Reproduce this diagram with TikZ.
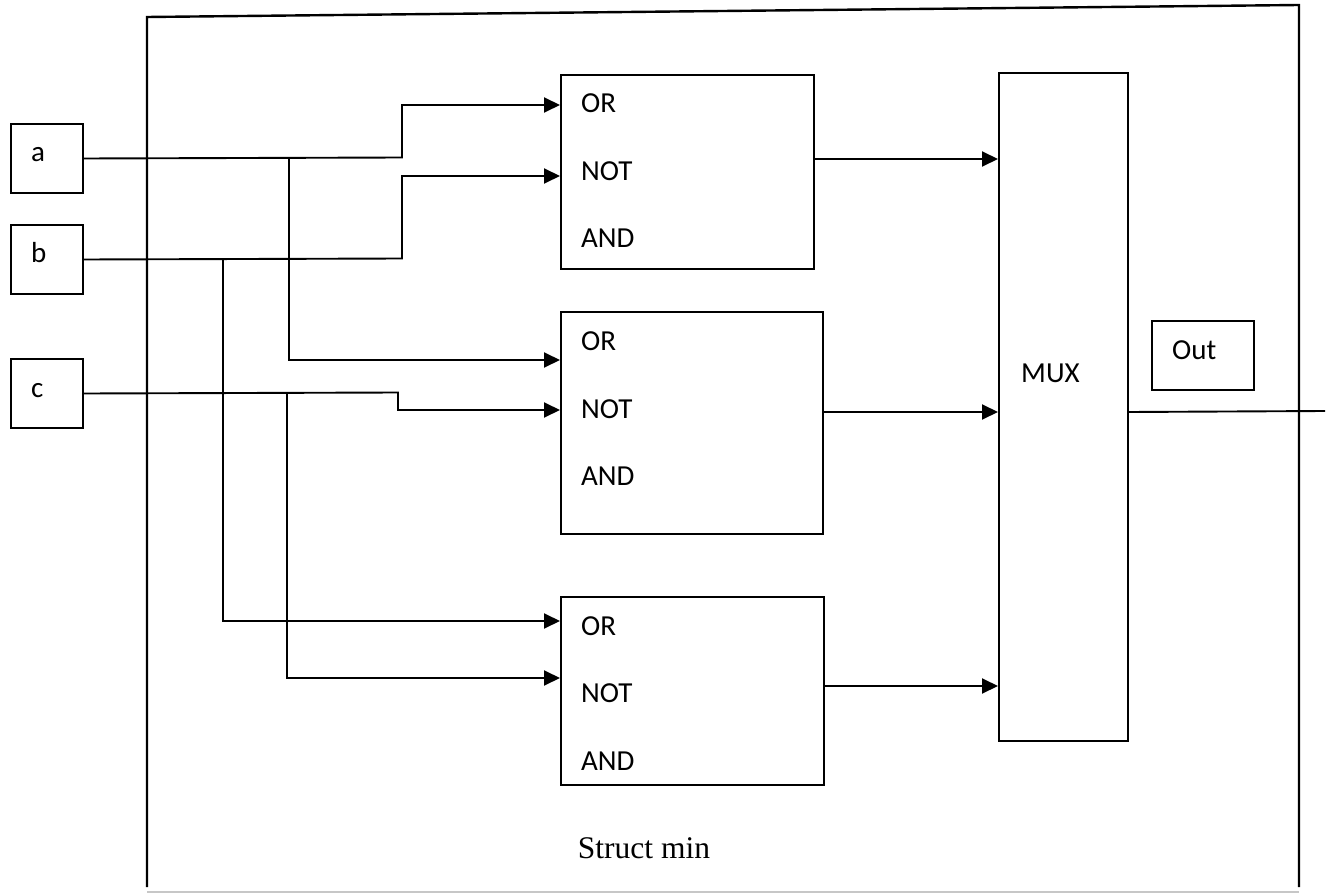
\documentclass[tikz,border=0pt]{standalone}
\usepackage{fontspec}
\setmainfont{Carlito}
\newfontfamily\tms{Liberation Serif}
\usetikzlibrary{arrows.meta}
\begin{document}
\begin{tikzpicture}[x=1pt,y=-1pt,
  box/.style={draw,line width=2pt,inner sep=0pt,anchor=north west},
  lbl/.style={anchor=base west,inner sep=0pt,font=\fontsize{29}{31}\selectfont},
  wire/.style={line width=1.9pt},
  arr/.style={wire,-{Triangle[length=16pt,width=15pt]}}]
\useasboundingbox (0,0) rectangle (1333,893);
% outer frame
\draw[line width=2.4pt] (147,887) -- (147,17) -- (1299,5) -- (1299,887);
\draw[line width=1.6pt,black!22] (147,892) -- (1299,892);
% inputs
\node[box,minimum width=72pt,minimum height=69pt] (a) at (10,123) {};
\node[box,minimum width=72pt,minimum height=69pt] (b) at (10,224) {};
\node[box,minimum width=72pt,minimum height=69pt] (c) at (10,358) {};
\node[lbl] (ta) at (31,162) {a};
\node[lbl] (tb) at (31,263) {b};
\node[lbl] (tc) at (31,397) {c};
% gate boxes
\node[box,minimum width=253pt,minimum height=194pt] (g1) at (560,74) {};
\node[box,minimum width=262pt,minimum height=222pt] (g2) at (560,311) {};
\node[box,minimum width=263pt,minimum height=188pt] (g3) at (560,596) {};
\node[lbl] (g1or) at (581,113) {OR};
\node[lbl] (g1not) at (581,181) {NOT};
\node[lbl] (g1and) at (581,248) {AND};
\node[lbl] (g2or) at (581,350) {OR};
\node[lbl] (g2not) at (581,418) {NOT};
\node[lbl] (g2and) at (581,485) {AND};
\node[lbl] (g3or) at (581,635) {OR};
\node[lbl] (g3not) at (581,702) {NOT};
\node[lbl] (g3and) at (581,770) {AND};
% mux and out
\node[box,minimum width=129pt,minimum height=668pt] (mux) at (998,72) {};
\node[lbl] (tmux) at (1021,382) {MUX};
\node[box,minimum width=102pt,minimum height=69pt] (out) at (1151,320) {};
\node[lbl] (tout) at (1172,359) {Out};
\node[anchor=base,inner sep=0pt,font=\tms\fontsize{31.5}{34}\selectfont] (title) at (644,858) {Struct min};
% junction coordinates
\coordinate (a1) at (402,157.5);
\coordinate (ja) at (289,157.5);
\coordinate (b1) at (402,258.5);
\coordinate (jb) at (223,258.5);
\coordinate (c1) at (398,392.5);
\coordinate (jc) at (287,392.5);
\coordinate (outend) at (1325,411);
% wires
\draw[arr] (a.east) -- (a1) |- ([yshift=-31pt]g1.north west);
\draw[arr] (ja) |- ([yshift=-49pt]g2.north west);
\draw[arr] (b.east) -- (b1) |- ([yshift=-102pt]g1.north west);
\draw[arr] (jb) |- ([yshift=-25pt]g3.north west);
\draw[arr] (c.east) -- (c1) |- ([yshift=-99pt]g2.north west);
\draw[arr] (jc) |- ([yshift=-82pt]g3.north west);
\draw[arr] ([yshift=13pt]g1.east) -- ([yshift=13pt]g1.east -| mux.west);
\draw[arr] ([yshift=11pt]g2.east) -- ([yshift=11pt]g2.east -| mux.west);
\draw[arr] ([yshift=5pt]g3.east) -- ([yshift=5pt]g3.east -| mux.west);
\draw[wire] ([yshift=-5pt]mux.east) -- (outend);
\end{tikzpicture}
\end{document}
